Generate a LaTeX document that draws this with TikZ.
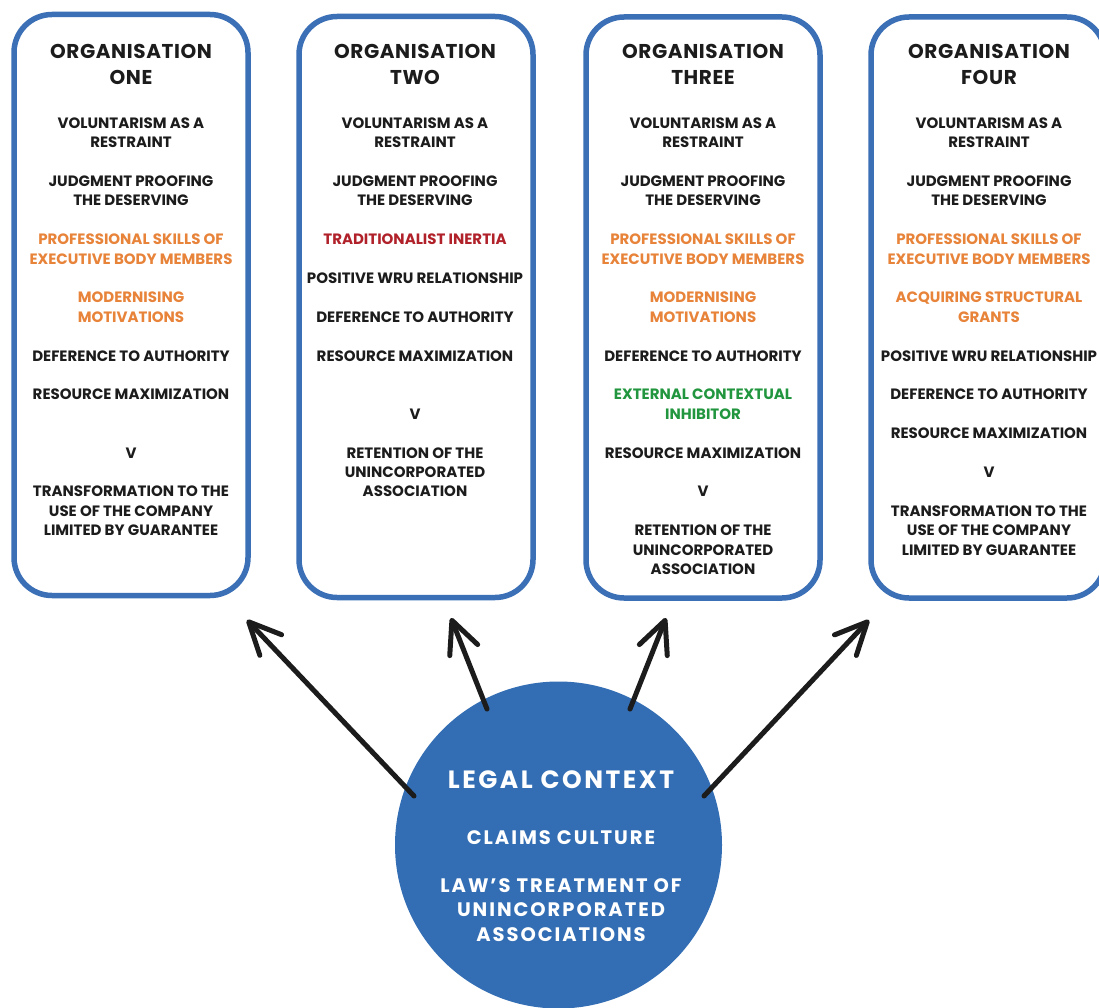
\documentclass[tikz,border=0pt]{standalone}
\usepackage{fontspec}
\setmainfont{Poppins}
\usetikzlibrary{arrows.meta}

\definecolor{frameblue}{HTML}{3B6FB6}
\definecolor{discblue}{HTML}{336EB4}
\definecolor{inktxt}{HTML}{1C1C1C}
\definecolor{orangetxt}{HTML}{E8833A}
\definecolor{redtxt}{HTML}{B0212A}
\definecolor{greentxt}{HTML}{22963F}

\newcommand{\ot}[1]{\textcolor{orangetxt}{#1}}
\newcommand{\rt}[1]{\textcolor{redtxt}{#1}}
\newcommand{\gt}[1]{\textcolor{greentxt}{#1}}

\begin{document}
\begin{tikzpicture}[x=1pt,y=-1pt,
  orgbox/.style={draw=frameblue, line width=5.5pt, rounded corners=38pt,
    fill=white, minimum width=234pt, minimum height=581pt, inner sep=0pt},
  orgtitle/.style={anchor=north, inner sep=0pt, align=center, text=inktxt,
    font={\fontsize{20}{26}\selectfont\bfseries\addfontfeatures{LetterSpace=3}}},
  orgbody/.style={anchor=north, inner sep=0pt, align=center, text=inktxt,
    font={\fontsize{15}{19.4}\selectfont\bfseries}},
  disc/.style={circle, fill=discblue, minimum size=327pt, inner sep=0pt},
  disctitle/.style={text=white, inner sep=0pt,
    font={\fontsize{25}{30}\selectfont\bfseries\addfontfeatures{LetterSpace=10}}},
  disctext/.style={text=white, inner sep=0pt, align=center,
    font={\fontsize{19.5}{24.5}\selectfont\bfseries\addfontfeatures{LetterSpace=10}}},
  arrowline/.style={draw=inktxt, line width=5pt, line cap=round,
    -{Straight Barb[length=32pt, width=30pt, line cap=round, line join=round]}}
]
\useasboundingbox (0,0) rectangle (1099,1008);
\clip (0,0) rectangle (1099,1008);
\fill[white] (0,0) rectangle (1099,1008);

% the four organisation panels
\node[orgbox] (o1) at (131,305) {};
\node[orgbox] (o2) at (416,307) {};
\node[orgbox] (o3) at (703,307.5) {};
\node[orgbox] (o4) at (988,307.5) {};

\node[orgtitle] (t1) at (131,44) {ORGANISATION\\ONE};
\node[orgtitle] (t2) at (415,44) {ORGANISATION\\TWO};
\node[orgtitle] (t3) at (703,44) {ORGANISATION\\THREE};
\node[orgtitle] (t4) at (989,44) {ORGANISATION\\FOUR};

\node[orgbody] (b1) at (131,117.5) {VOLUNTARISM AS A\\RESTRAINT\\[19.4pt]
  JUDGMENT PROOFING\\THE DESERVING\\[19.4pt]
  \ot{PROFESSIONAL SKILLS OF}\\\ot{EXECUTIVE BODY MEMBERS}\\[19.4pt]
  \ot{MODERNISING}\\\ot{MOTIVATIONS}\\[19.4pt]
  DEFERENCE TO AUTHORITY\\[19.4pt]
  RESOURCE MAXIMIZATION\\[38.8pt]
  V\\[19.4pt]
  TRANSFORMATION TO THE\\USE OF THE COMPANY\\LIMITED BY GUARANTEE};

\node[orgbody] (b2) at (415,117.5) {VOLUNTARISM AS A\\RESTRAINT\\[19.4pt]
  JUDGMENT PROOFING\\THE DESERVING\\[19.4pt]
  \rt{TRADITIONALIST INERTIA}\\[19.4pt]
  POSITIVE WRU RELATIONSHIP\\[19.4pt]
  DEFERENCE TO AUTHORITY\\[19.4pt]
  RESOURCE MAXIMIZATION\\[38.8pt]
  V\\[19.4pt]
  RETENTION OF THE\\UNINCORPORATED\\ASSOCIATION};

\node[orgbody] (b3) at (703,117.5) {VOLUNTARISM AS A\\RESTRAINT\\[19.4pt]
  JUDGMENT PROOFING\\THE DESERVING\\[19.4pt]
  \ot{PROFESSIONAL SKILLS OF}\\\ot{EXECUTIVE BODY MEMBERS}\\[19.4pt]
  \ot{MODERNISING}\\\ot{MOTIVATIONS}\\[19.4pt]
  DEFERENCE TO AUTHORITY\\[19.4pt]
  \gt{EXTERNAL CONTEXTUAL}\\\gt{INHIBITOR}\\[19.4pt]
  RESOURCE MAXIMIZATION\\[19.4pt]
  V\\[19.4pt]
  RETENTION OF THE\\UNINCORPORATED\\ASSOCIATION};

\node[orgbody] (b4) at (989,117.5) {VOLUNTARISM AS A\\RESTRAINT\\[19.4pt]
  JUDGMENT PROOFING\\THE DESERVING\\[19.4pt]
  \ot{PROFESSIONAL SKILLS OF}\\\ot{EXECUTIVE BODY MEMBERS}\\[19.4pt]
  \ot{ACQUIRING STRUCTURAL}\\\ot{GRANTS}\\[19.4pt]
  POSITIVE WRU RELATIONSHIP\\[19.4pt]
  DEFERENCE TO AUTHORITY\\[19.4pt]
  RESOURCE MAXIMIZATION\\[19.4pt]
  V\\[19.4pt]
  TRANSFORMATION TO THE\\USE OF THE COMPANY\\LIMITED BY GUARANTEE};

% the legal context disc
\node[disc] (lc) at (558.5,845) {};
\node[disctitle] (lct) at (561,780) {LEGAL CONTEXT};
\node[disctext] (lcc) at (561,838) {CLAIMS CULTURE};
\node[disctext, anchor=north] (lcl) at (561,878) {LAW’S TREATMENT OF\\UNINCORPORATED\\ASSOCIATIONS};

% arrow ends
\coordinate (s1) at (414,796);
\coordinate (e1) at (247,620);
\coordinate (s2) at (487,709);
\coordinate (e2) at (451,618);
\coordinate (s3) at (630,709);
\coordinate (e3) at (666,618);
\coordinate (s4) at (704,796);
\coordinate (e4) at (869,620);

\draw[arrowline] (s1) -- (e1);
\draw[arrowline] (s2) -- (e2);
\draw[arrowline] (s3) -- (e3);
\draw[arrowline] (s4) -- (e4);
\end{tikzpicture}
\end{document}
